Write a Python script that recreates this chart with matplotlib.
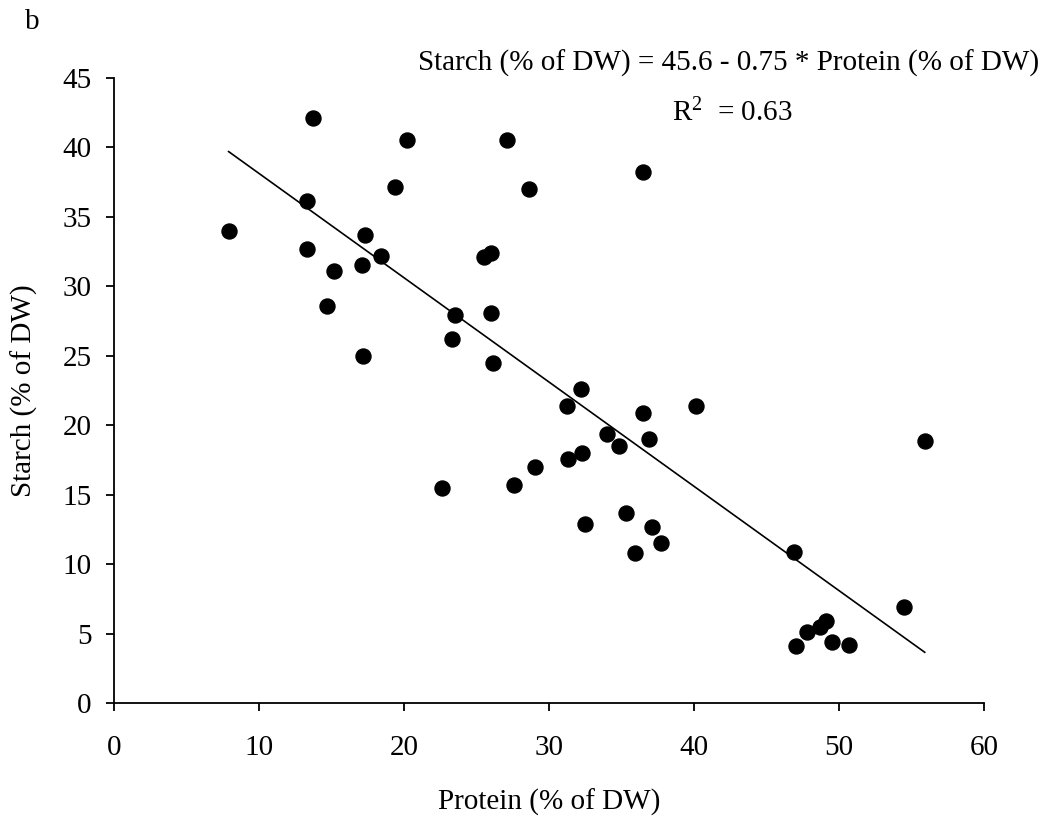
import matplotlib
matplotlib.use("Agg")
import matplotlib.pyplot as plt
import numpy as np

protein = [7.9, 13.7, 13.3, 13.3, 15.2, 14.7, 17.3, 17.1, 17.2, 18.4, 19.4, 20.2,
           22.6, 23.3, 23.5, 25.5, 26.0, 26.0, 26.1, 27.1, 27.6, 28.6, 29.0,
           31.2, 31.3, 32.2, 32.3, 32.5, 34.0, 34.8, 35.3, 35.9, 36.5, 36.5, 36.9,
           37.1, 37.7, 40.1, 46.9, 47.0, 47.8, 48.7, 49.1, 49.5, 50.7, 54.5, 55.9]
starch = [34.0, 42.1, 36.1, 32.7, 31.1, 28.6, 33.7, 31.5, 25.0, 32.2, 37.1, 40.5,
          15.5, 26.2, 27.9, 32.1, 32.4, 28.1, 24.5, 40.5, 15.7, 37.0, 17.0,
          21.4, 17.6, 22.6, 18.0, 12.9, 19.4, 18.5, 13.7, 10.8, 38.2, 20.9, 19.0,
          12.7, 11.5, 21.4, 10.9, 4.1, 5.1, 5.5, 5.9, 4.4, 4.2, 6.9, 18.9]
intercept = 45.6
slope = -0.75
r2 = 0.63
xticks = [0, 10, 20, 30, 40, 50, 60]
yticks = [0, 5, 10, 15, 20, 25, 30, 35, 40, 45]

plt.rcParams['font.family'] = ['Liberation Serif', 'DejaVu Serif']
plt.rcParams['mathtext.fontset'] = 'custom'
plt.rcParams['mathtext.rm'] = 'Liberation Serif'
plt.rcParams['mathtext.it'] = 'Liberation Serif:italic'
fs = 21

fig = plt.figure(figsize=(10.56, 8.16), dpi=100)
ax = fig.add_axes([0.108, 0.138, 0.824, 0.767])

ax.plot(protein, starch, 'o', color='black', markersize=10.8, zorder=3)
xl = np.array([min(protein), max(protein)])
ax.plot(xl, intercept + slope * xl, color='black', linewidth=1.2, zorder=2)

ax.set_xlim(0, 60)
ax.set_ylim(0, 45)
ax.set_xticks(xticks)
ax.set_yticks(yticks)
ax.tick_params(direction='out', length=6, width=1.3, labelsize=fs)
ax.tick_params(axis='y', pad=10)
ax.tick_params(axis='x', pad=17)
for s in ['top', 'right']:
    ax.spines[s].set_visible(False)
for s in ['left', 'bottom']:
    ax.spines[s].set_linewidth(1.3)

ax.set_xlabel('Protein (% of DW)', fontsize=fs, labelpad=19.5)
ax.set_ylabel('Starch (% of DW)', fontsize=fs, labelpad=18)

fig.text(418 / 1056, 1 - 63 / 816,
         f'Starch (% of DW) = {intercept} - {abs(slope)} * Protein (% of DW)',
         fontsize=fs, va='center', ha='left')
fig.text(672 / 1056, 1 - 113 / 816, r'R$^{2}$  = ' + f'{r2:.2f}',
         fontsize=fs, va='center', ha='left')
fig.text(25 / 1056, 1 - 22 / 816, 'b', fontsize=fs, va='center', ha='left')

fig.savefig('out.png', dpi=100)
